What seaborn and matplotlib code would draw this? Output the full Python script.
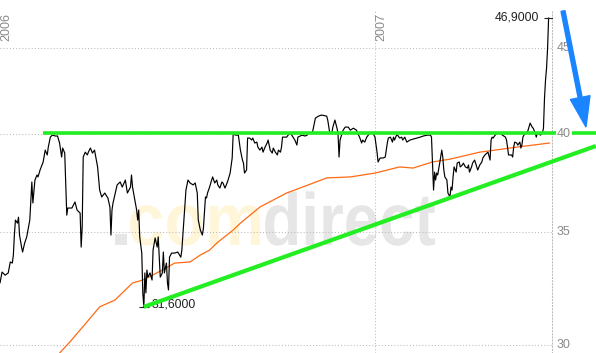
import numpy as np
import pandas as pd
import matplotlib
matplotlib.use("Agg")
import matplotlib.pyplot as plt
import matplotlib.dates as mdates
import matplotlib.transforms as mtransforms
from matplotlib.patches import FancyArrow, PathPatch
from matplotlib.textpath import TextPath
from matplotlib.font_manager import FontProperties
from matplotlib.ticker import NullLocator
import seaborn as sns

# ---------------- data ----------------
start_date = "2006-01-01"

price_days = [
    0, 2, 5, 8, 10, 12, 13, 14, 15, 17, 18, 19, 21, 22, 24, 26, 29, 31, 32, 34,
    36, 37, 39, 42, 44, 46, 47, 49, 51, 54, 56, 58, 60, 61, 63,
    65, 66, 70, 73, 75, 78, 79, 80, 81, 83, 85, 86, 88, 90, 92, 95, 97, 99, 102,
    105, 107, 108, 109, 110, 114, 117, 119, 122, 124, 127, 128, 129, 133, 134, 135,
    136, 138, 139, 140, 141, 142, 143, 144, 146, 148, 149, 151, 153, 154, 156, 158,
    159, 160, 162, 163, 164, 165, 167, 170, 173, 176, 177, 179, 181, 183, 185, 188,
    190, 192, 193, 195, 197, 198, 200, 201, 202, 204, 206, 207, 209, 211, 212, 214,
    216, 217, 219, 221, 222, 224, 226, 227, 229, 232, 234, 236, 237, 238, 240, 241,
    243, 245, 246, 248, 250, 251, 253, 255, 256, 258, 260, 261, 263, 265, 266, 268,
    270, 271, 273, 274, 275, 279, 282, 284, 287, 289, 290, 294, 297, 299, 300, 304,
    307, 310, 313, 318, 319, 321, 323, 324, 326, 328, 329, 330, 331, 333, 334, 336,
    339, 341, 344, 347, 348, 350, 352, 353, 355, 357, 360, 363, 365, 367, 368, 370,
    373, 375, 377, 378, 380, 382, 383, 384, 386, 387, 389, 391, 392, 394, 396, 399,
    402, 406, 409, 412, 416, 419, 420, 421, 422, 423, 424, 425, 426, 428, 430, 431,
    432, 433, 435, 436, 438, 439, 440, 441, 442, 444, 445, 447, 448, 450, 451, 453,
    455, 456, 457, 459, 460, 462, 464, 465, 467, 469, 470, 472, 474, 475, 477, 478,
    479, 480, 482, 484, 487, 489, 492, 493, 494, 495, 498, 499, 500, 501, 503, 504,
    506, 507, 508, 509, 511, 513, 514, 516, 518, 519, 521, 522, 523, 524, 526, 528,
    529, 530, 531, 532, 533, 534,
]
price_vals = [
    32.65, 33.14, 33.00, 33.10, 33.60, 33.55, 33.92, 34.86, 35.58, 35.43, 35.72, 34.86, 34.29, 34.06, 34.48, 34.77, 35.58, 37.48, 36.42, 37.58,
    37.84, 37.74, 38.10, 38.52, 39.15, 38.89, 39.31, 39.85, 39.96, 39.91, 39.91, 39.53, 38.78, 39.26, 38.99,
    35.82, 36.17, 36.17, 36.47, 36.07, 35.92, 34.29, 35.24, 38.78, 39.04, 38.89, 39.04, 39.26, 38.99, 39.15, 38.26, 37.07, 36.72, 36.92,
    36.67, 36.22, 34.86, 36.07, 36.42, 37.33, 37.48, 37.22, 37.58, 36.92, 37.22, 37.84, 37.22, 36.07, 35.58, 36.07,
    34.77, 34.01, 32.21, 31.60, 33.10, 32.21, 33.23, 32.91, 33.10, 32.78, 34.15, 34.72, 34.29, 34.77, 32.91, 33.10,
    34.06, 33.10, 33.55, 32.65, 32.34, 33.82, 34.01, 34.01, 34.06, 33.82, 34.15, 35.58, 37.07, 37.58, 37.43, 37.33,
    37.43, 36.92, 35.58, 35.10, 34.86, 35.19, 36.72, 36.67, 36.92, 37.22, 37.58, 37.74, 37.43, 37.58, 37.33, 37.17,
    37.48, 37.43, 37.17, 37.43, 37.58, 37.94, 38.73, 40.07, 39.96, 39.96, 39.15, 38.62, 38.46, 37.94, 38.10, 39.80,
    39.80, 39.69, 39.80, 39.53, 39.58, 39.31, 39.15, 39.31, 39.04, 39.31, 39.53, 39.69, 39.15, 38.99, 39.26, 39.04,
    38.89, 39.15, 39.04, 39.31, 39.85, 39.85, 40.07, 39.96, 39.69, 39.42, 39.85, 39.96, 39.91, 39.96, 40.07, 40.07,
    40.90, 41.01, 41.07, 41.01, 40.79, 40.07, 40.07, 40.40, 40.79, 40.34, 40.07, 38.78, 39.69, 40.07, 40.23, 40.40,
    40.40, 40.23, 40.34, 40.23, 40.07, 39.85, 39.53, 39.69, 39.58, 39.85, 40.07, 40.07, 39.85, 39.04, 38.52, 38.73,
    38.73, 38.78, 39.53, 39.80, 39.85, 39.58, 39.85, 39.69, 39.96, 39.96, 39.80, 39.85, 39.69, 39.85, 39.58, 39.69,
    39.74, 39.80, 39.85, 39.91, 39.96, 39.96, 39.85, 38.46, 37.07, 37.99, 37.58, 37.94, 37.84, 38.46, 39.15, 38.78,
    38.10, 37.74, 37.58, 36.92, 36.72, 37.22, 37.07, 37.74, 38.26, 37.99, 38.46, 38.52, 38.26, 38.36, 38.46, 38.26,
    38.20, 38.36, 37.99, 38.26, 38.46, 38.62, 38.26, 38.10, 38.36, 38.52, 38.73, 38.89, 38.99, 39.04, 38.62, 39.69,
    39.85, 39.80, 39.96, 40.07, 40.07, 39.96, 39.85, 39.69, 39.31, 38.89, 38.89, 38.78, 39.31, 39.58, 39.53, 39.42,
    39.58, 39.26, 39.42, 39.85, 40.07, 40.07, 40.23, 40.62, 40.40, 40.34, 40.07, 39.85, 40.07, 40.07, 39.96, 40.07,
    40.34, 42.03, 43.08, 43.79, 45.00, 46.90,
]

ma_days = [58, 68, 78, 88, 97, 112, 129, 139, 158, 170, 185, 195, 204, 211, 227, 234,
           253, 279, 297, 318, 341, 365, 389, 402, 421, 438, 467, 503, 535]
ma_vals = [29.67, 30.12, 30.62, 31.13, 31.60, 31.90, 32.65, 32.78, 33.23, 33.55, 33.60,
           33.92, 34.15, 34.48, 35.10, 35.43, 36.22, 36.92, 37.27, 37.69, 37.74, 37.94,
           38.26, 38.20, 38.52, 38.67, 39.04, 39.31, 39.53]

resistance_days = [42, 580]
resistance_vals = [40.1, 40.1]
support_days = [140, 580]
support_vals = [31.6, 39.37]

year_dates = ["2006-01-01", "2007-01-01"]
year_labels = ["2006", "2007"]
y_ticks = [30, 35, 40, 45]
y_labels = ["30", "35", "40", "45"]
high_label = "46,9000"
low_label = "31,6000"
watermark_parts = [".", "com", "direct"]

assert len(price_days) == len(price_vals), (len(price_days), len(price_vals))
assert len(ma_days) == len(ma_vals)

# ---------------- styling ----------------
sns.set_theme(style="white")
plt.rcParams["font.family"] = ["Liberation Sans", "DejaVu Sans"]

W, H = 596, 353
fig = plt.figure(figsize=(W / 100, H / 100), dpi=100)
fig.patch.set_facecolor("white")
ax = fig.add_axes([0, 0, 552 / W, 343 / H])
ax.set_facecolor("white")

t0 = pd.Timestamp(start_date)
def to_dates(days):
    return t0 + pd.to_timedelta(np.asarray(days, dtype=float), unit="D")

df_price = pd.DataFrame({"date": to_dates(price_days), "price": price_vals})
df_ma = pd.DataFrame({"date": to_dates(ma_days), "ma": ma_vals})

# watermark (behind everything)
wm_colors = ["#E6E6E6", "#FFF6D9", "#E6E6E6"]
wm_left = [115, 130, 265]
wm_right = [127, 260, 435]
wm_base = H - 245
wm_sy = 74
fp = FontProperties(family="Liberation Sans", weight="bold")
for part, col, l, r in zip(watermark_parts, wm_colors, wm_left, wm_right):
    tp = TextPath((0, 0), part, size=1, prop=fp)
    ext = tp.get_extents()
    sx = (r - l) / ext.width
    tr = mtransforms.Affine2D().translate(-ext.x0, 0).scale(sx, wm_sy).translate(l, wm_base)
    patch = PathPatch(tr.transform_path(tp), facecolor=col, edgecolor="none",
                      transform=mtransforms.IdentityTransform(), zorder=0.5)
    ax.add_artist(patch)

# lines
sns.lineplot(data=df_ma, x="date", y="ma", ax=ax, color="#FF6A13", lw=0.9,
             estimator=None, zorder=3)
sns.lineplot(data=df_price, x="date", y="price", ax=ax, color="black", lw=0.85,
             estimator=None, zorder=4)

# high / low markers
hi_i = int(np.argmax(price_vals))
lo_i = int(np.argmin(price_vals))
hi_d = df_price["date"].iloc[hi_i]
lo_d = df_price["date"].iloc[lo_i]
ax.plot([hi_d], [price_vals[hi_i]], marker="_", ms=6.5, mew=0.8, color="#222222", zorder=4)
ax.plot([lo_d], [price_vals[lo_i]], marker="_", ms=6.5, mew=0.8, color="#222222", zorder=4)
ax.annotate(high_label, xy=(hi_d, price_vals[hi_i]), xytext=(-9, 0),
            textcoords="offset pixels", ha="right", va="center",
            fontsize=8.8, color="#222222", zorder=5)
ax.annotate(low_label, xy=(lo_d, price_vals[lo_i]), xytext=(8, 2),
            textcoords="offset pixels", ha="left", va="center",
            fontsize=8.8, color="#222222", zorder=5)

# trend lines (extend past the plot area)
green = "#22EE22"
ax.plot(to_dates(resistance_days), resistance_vals, color=green, lw=2.6,
        solid_capstyle="butt", clip_on=False, zorder=6)
ax.plot(to_dates(support_days), support_vals, color=green, lw=3.0,
        solid_capstyle="butt", clip_on=False, zorder=6)

# axes setup
ax.set_yscale("log")
ax.set_ylim(29.67, 47.41)
x0 = mdates.date2num(t0)
ax.set_xlim(x0, x0 + 537.3)
ax.set_yticks(y_ticks)
ax.set_yticklabels([])
ax.yaxis.set_minor_locator(NullLocator())
ax.set_xticks([mdates.date2num(pd.Timestamp(year_dates[1]))])
ax.set_xticklabels([])
ax.tick_params(length=0)
ax.set_xlabel("")
ax.set_ylabel("")
if ax.get_legend():
    ax.get_legend().remove()

grid_kw = dict(color="#BBBBBB", lw=0.75, ls=(0, (1, 2)))
ax.grid(True, axis="both", **grid_kw)
for s in ["top", "left", "bottom"]:
    ax.spines[s].set_visible(False)
ax.spines["right"].set_visible(True)
ax.spines["right"].set_color("#BBBBBB")
ax.spines["right"].set_linewidth(0.75)
ax.spines["right"].set_linestyle((0, (1, 2)))

# right-hand price labels
ytrans = mtransforms.offset_copy(ax.get_yaxis_transform(), fig=fig, x=5, y=0, units="dots")
for v, lab in zip(y_ticks, y_labels):
    ax.text(1.0, v, lab, transform=ytrans, ha="left", va="center", fontsize=9,
            color="#8A8A8A", zorder=10, clip_on=False,
            bbox=dict(facecolor="white", edgecolor="none", pad=0.5))

# year labels
xtrans = mtransforms.blended_transform_factory(ax.transData, ax.transAxes)
for d, lab in zip(year_dates, year_labels):
    ax.text(mdates.date2num(pd.Timestamp(d)), 1 - 3 / 343, lab, transform=xtrans,
            rotation=90, ha="left", va="top", fontsize=9, color="#8A8A8A", zorder=5)

# blue arrow (figure pixels)
arrow = FancyArrow(563, H - 11, 23, -116, width=4, head_width=20, head_length=30,
                   length_includes_head=True, color="#1A85FF",
                   transform=mtransforms.IdentityTransform(), zorder=20)
fig.add_artist(arrow)

fig.savefig("out.png", dpi=100, facecolor="white")
